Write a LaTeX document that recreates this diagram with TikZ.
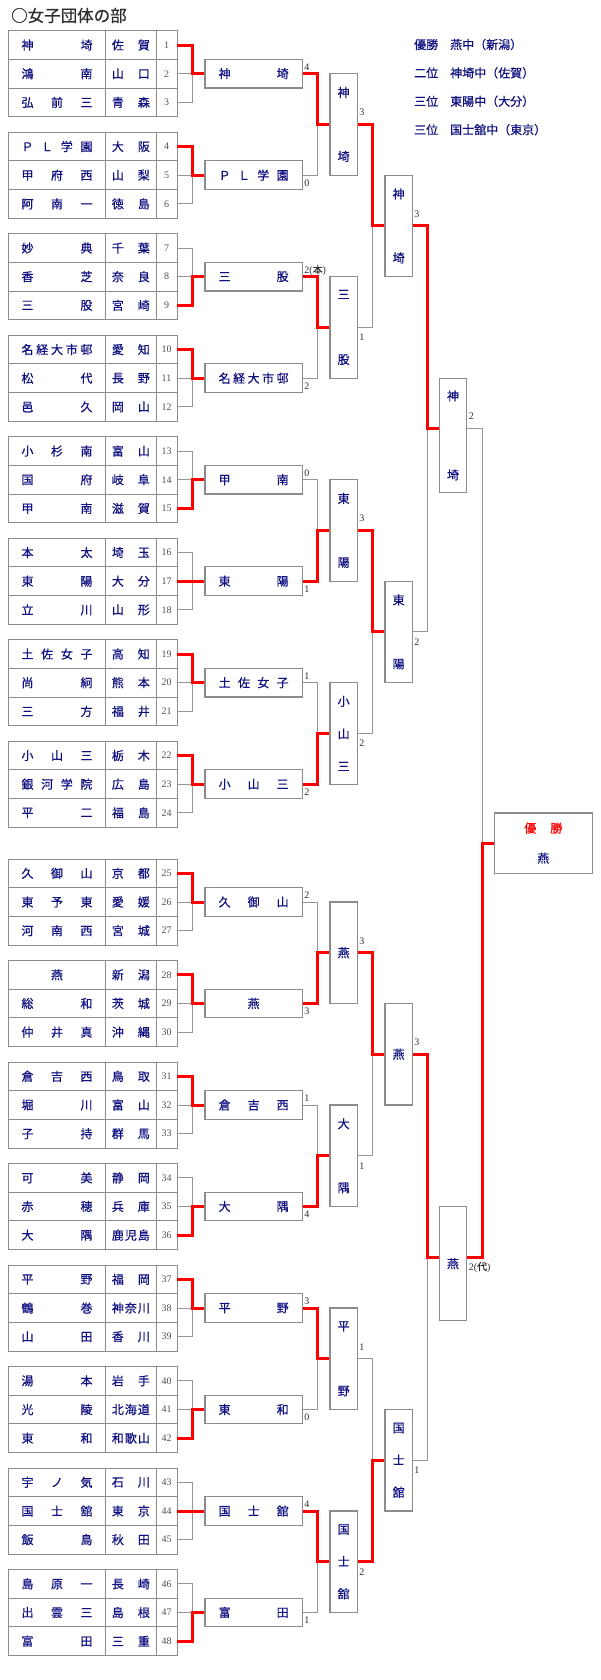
\documentclass[tikz,border=0pt]{standalone}
\usepackage{fontspec}
\setmainfont{Liberation Serif}
\newfontfamily\jp[FakeBold=0.6]{Noto Sans CJK JP}
\usepackage{xcolor}
\usepackage{tikz}
\usetikzlibrary{positioning, calc}

\definecolor{navytext}{RGB}{16,16,128}
\definecolor{framegray}{RGB}{140,140,140}
\definecolor{linegray}{RGB}{150,150,150}
\definecolor{numgray}{RGB}{80,80,80}
\definecolor{titlegray}{RGB}{45,45,45}
\definecolor{winred}{RGB}{255,0,0}

% spread characters over a fixed width / height
\makeatletter
\def\hsp@a#1#2\@nil{#1\ifx\relax#2\relax\else\hfill\hsp@a#2\@nil\fi}
\newcommand\hspread[2]{\hbox to #1{\hfil\expandafter\hsp@a#2\@nil\hfil}}
\def\vsp@a#1#2\@nil{\hbox to 14pt{\hss#1\hss}\ifx\relax#2\relax\else\vfill\vsp@a#2\@nil\fi}
\newcommand\vspread[2]{\vbox to #1{\vfil\expandafter\vsp@a#2\@nil\vfil}}
\makeatother

\begin{document}
\begin{tikzpicture}[
    x=1pt, y=-1pt,
    cell/.style={draw=framegray, line width=0.9pt, minimum height=28.67pt, inner sep=0pt, outer sep=0pt, text=navytext, font=\jp\fontsize{12}{14}\selectfont},
    namecell/.style={cell, minimum width=97.4pt},
    prefcell/.style={cell, minimum width=50.3pt},
    numcell/.style={cell, minimum width=21pt, text=numgray, font=\fontsize{10}{12}\selectfont},
    rbox/.style={draw=framegray, line width=1.2pt, minimum width=97.3pt, minimum height=28.67pt, inner sep=0pt, text=navytext, font=\jp\fontsize{12}{14}\selectfont},
    tbox/.style={draw=framegray, line width=1.2pt, minimum width=27.3pt, minimum height=101.5pt, inner sep=0pt, text=navytext, font=\jp\fontsize{12}{14}\selectfont},
    champbox/.style={draw=framegray, line width=1.2pt, minimum width=98pt, minimum height=60.2pt, inner sep=0pt, align=center, text=navytext, font=\jp\fontsize{12}{14}\selectfont},
    result/.style={anchor=west, inner sep=0pt, text=navytext, font=\jp\fontsize{12}{14}\selectfont},
    score/.style={anchor=west, inner sep=1pt, xshift=0.3pt, text=titlegray, font=\fontsize{10}{12}\selectfont},
    scoreup/.style={score, yshift=6.5pt},
    scoredn/.style={score, yshift=-8pt},
    tallup/.style={score, yshift=12pt},
    talldn/.style={score, yshift=-10pt},
    gline/.style={draw=linegray, line width=1pt},
    wline/.style={draw=winred, line width=3pt},
]
\useasboundingbox (0,0) rectangle (600,1680);

% === TITLE AND RESULTS ===
\node[anchor=west, inner sep=0pt, text=titlegray, font=\jp\fontsize{16.5}{18}\selectfont] (title) at (11,15.5) {○女子団体の部};
\node[result] (res1) at (414,44.5) {優勝　燕中（新潟）};
\node[result] (res2) at (414,72.9) {二位　神埼中（佐賀）};
\node[result] (res3) at (414,101.3) {三位　東陽中（大分）};
\node[result] (res4) at (414,129.7) {三位　国士舘中（東京）};

% === ENTRY TABLE ===
\foreach \k/\nm/\pf in {1/神埼/佐賀, 2/鴻南/山口, 3/弘前三/青森, 4/ＰＬ学園/大阪, 5/甲府西/山梨, 6/阿南一/徳島,
    7/妙典/千葉, 8/香芝/奈良, 9/三股/宮崎, 10/名経大市邨/愛知, 11/松代/長野, 12/邑久/岡山,
    13/小杉南/富山, 14/国府/岐阜, 15/甲南/滋賀, 16/本太/埼玉, 17/東陽/大分, 18/立川/山形,
    19/土佐女子/高知, 20/尚絅/熊本, 21/三方/福井, 22/小山三/栃木, 23/銀河学院/広島, 24/平二/福島,
    25/久御山/京都, 26/東予東/愛媛, 27/河南西/宮城, 28/燕/新潟, 29/総和/茨城, 30/仲井真/沖縄,
    31/倉吉西/鳥取, 32/堀川/富山, 33/子持/群馬, 34/可美/静岡, 35/赤穂/兵庫, 36/大隅/鹿児島,
    37/平野/福岡, 38/鶴巻/神奈川, 39/山田/香川, 40/湯本/岩手, 41/光陵/北海道, 42/東和/和歌山,
    43/宇ノ気/石川, 44/国士舘/東京, 45/飯島/秋田, 46/島原一/長崎, 47/出雲三/島根, 48/富田/三重}{
    \pgfmathtruncatemacro\gi{(\k-1)/3}
    \pgfmathtruncatemacro\ri{\k-1-3*\gi}
    \pgfmathsetmacro\yy{45.035+\gi*101.5+(\gi>7)*16.3+\ri*28.67}
    \node[namecell] (m\k) at (57,\yy) {\hspread{71pt}{\nm}};
    \node[prefcell, right=0pt of m\k] (p\k) {\hspread{38pt}{\pf}};
    \node[numcell, right=0pt of p\k] (n\k) {\k};
}

% === ROUND 2 ===
\foreach \g/\wn/\wr/\sc in {1/神埼/1/4, 2/ＰＬ学園/1/0, 3/三股/3/{2({\jp 本})}, 4/名経大市邨/1/2,
    5/甲南/3/0, 6/東陽/2/1, 7/土佐女子/1/1, 8/小山三/1/2,
    9/久御山/1/2, 10/燕/1/3, 11/倉吉西/1/1, 12/大隅/3/4,
    13/平野/1/3, 14/東和/3/0, 15/国士舘/2/4, 16/富田/3/1}{
    \pgfmathsetmacro\yc{73.7+(\g-1)*101.5+(\g>8)*16.3}
    \pgfmathtruncatemacro\ka{3*\g-2}
    \pgfmathtruncatemacro\kb{3*\g-1}
    \pgfmathtruncatemacro\kc{3*\g}
    \pgfmathtruncatemacro\kw{3*\g-3+\wr}
    \node[rbox] (r\g) at (253.65,\yc) {\hspread{70pt}{\wn}};
    \coordinate (j\g) at (192.7,\yc);
    \draw[gline] (n\ka.east) -| (j\g);
    \draw[gline] (n\kb.east) -| (j\g) -- (r\g.west);
    \draw[gline] (n\kc.east) -| (j\g);
    \draw[wline] (n\kw.east) -| (j\g) -- (r\g.west);
    \ifodd\g
        \node[scoreup] (sr\g) at (r\g.east) {\sc};
    \else
        \node[scoredn] (sr\g) at (r\g.east) {\sc};
    \fi
}

% === QUARTER FINALS ===
\foreach \i/\nm/\yc/\wa/\sc in {1/神埼/124.45/1/3, 2/三股/327.45/3/1, 3/東陽/530.45/6/3, 4/小山三/733.45/8/2,
    5/燕/952.75/10/3, 6/大隅/1155.75/12/1, 7/平野/1358.75/13/1, 8/国士舘/1561.75/15/2}{
    \pgfmathtruncatemacro\ia{2*\i-1}
    \pgfmathtruncatemacro\ib{2*\i}
    \node[tbox] (q\i) at (343.65,\yc) {\vspread{75pt}{\nm}};
    \coordinate (jq\i) at (317.3,\yc);
    \draw[gline] (r\ia.east) -| (jq\i);
    \draw[gline] (r\ib.east) -| (jq\i) -- (q\i.west);
    \draw[wline] (r\wa.east) -| (jq\i) -- (q\i.west);
    \ifodd\i
        \node[tallup] (sq\i) at (q\i.east) {\sc};
    \else
        \node[talldn] (sq\i) at (q\i.east) {\sc};
    \fi
}

% === SEMI FINALS ===
\foreach \i/\nm/\yc/\wa/\sc in {1/神埼/225.95/1/3, 2/東陽/631.95/3/2, 3/燕/1054.25/5/3, 4/国士舘/1460.25/8/1}{
    \pgfmathtruncatemacro\ia{2*\i-1}
    \pgfmathtruncatemacro\ib{2*\i}
    \node[tbox] (s\i) at (398.65,\yc) {\vspread{75pt}{\nm}};
    \coordinate (js\i) at (372.3,\yc);
    \draw[gline] (q\ia.east) -| (js\i);
    \draw[gline] (q\ib.east) -| (js\i) -- (s\i.west);
    \draw[wline] (q\wa.east) -| (js\i) -- (s\i.west);
    \ifodd\i
        \node[tallup] (ss\i) at (s\i.east) {\sc};
    \else
        \node[talldn] (ss\i) at (s\i.east) {\sc};
    \fi
}

% === FINAL ===
\node[tbox, minimum height=114.3pt] (f1) at (453,435.35) {\vspread{90pt}{神埼}};
\node[tbox, minimum height=114.3pt] (f2) at (453,1263.65) {\vspread{90pt}{燕}};
\coordinate (jf1) at (427.7,428.95);
\coordinate (jf2) at (427.7,1257.25);
\draw[gline] (s2.east) -| (jf1);
\draw[wline] (s1.east) -| (jf1) -- (jf1 -| f1.west);
\draw[gline] (s4.east) -| (jf2);
\draw[wline] (s3.east) -| (jf2) -- (jf2 -| f2.west);
\node[tallup, yshift=0.7pt] (sf1) at (jf1 -| f1.east) {2};
\node[talldn] (sf2) at (jf2 -| f2.east) {2({\jp 代})};

% winner
\node[champbox] (champ) at (543.3,843.1) {\textcolor{winred}{\hspread{38pt}{優勝}}\\[16pt]燕};
\coordinate (jw) at (482.3,843.1);
\draw[gline] (jf1 -| f1.east) -| (jw);
\draw[wline] (jf2 -| f2.east) -| (jw) -- (champ.west);

\end{tikzpicture}
\end{document}
